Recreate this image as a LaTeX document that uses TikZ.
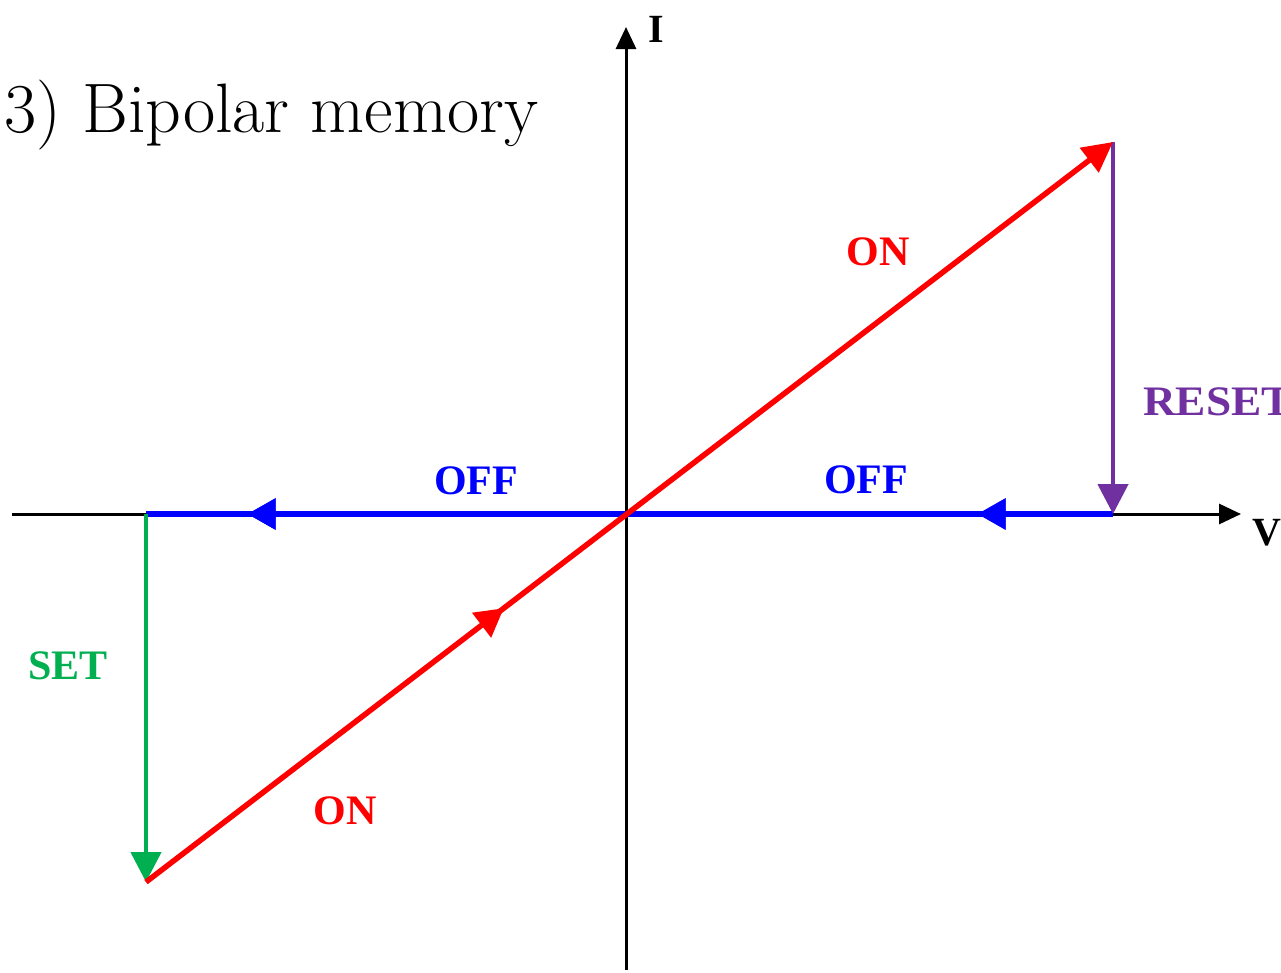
\documentclass[tikz,border=0pt]{standalone}
\usepackage{fontspec}
\newfontfamily\labfont{Liberation Serif}
\usetikzlibrary{arrows.meta,decorations.markings}
\definecolor{cred}{RGB}{255,0,0}
\definecolor{cblue}{RGB}{0,0,255}
\definecolor{cgreen}{RGB}{0,176,80}
\definecolor{cpurple}{RGB}{112,48,160}
\tikzset{
  axis/.style={line width=3pt,-{Triangle[length=22pt,width=20pt]}},
  branch/.style={line width=5.5pt},
  head/.style={-{Triangle[length=30pt,width=30pt]}},
  lab/.style={font=\labfont\bfseries\fontsize{42}{42}\selectfont,inner sep=0pt},
  midarrow/.style={postaction={decorate},decoration={markings,mark=at position #1 with {\arrow{Triangle[length=28pt,width=30pt]}}}}
}
\begin{document}
\begin{tikzpicture}[x=1pt,y=-1pt]
\useasboundingbox (0,0) rectangle (1281,972);
% key coordinates
\coordinate (O) at (626,514);
\coordinate (xl) at (12,514);
\coordinate (xr) at (1241,514);
\coordinate (yb) at (626,970);
\coordinate (yt) at (626,27);
\coordinate (TR) at (1113,142);
\coordinate (R) at (1113,514);
\coordinate (L) at (146,514);
\coordinate (BL) at (146,882);
% axes
\draw[axis] (xl) -- (xr);
\draw[axis] (yb) -- (yt);
\node[font=\labfont\bfseries\fontsize{40}{40}\selectfont,anchor=south west,inner sep=0pt] (Ilab) at (648,43) {I};
\node[font=\labfont\bfseries\fontsize{40}{40}\selectfont,anchor=south west,inner sep=0pt] (Vlab) at (1252,546) {V};
% branches
\draw[branch,cblue,midarrow=0.14,midarrow=0.895] (R) -- (L);
\draw[branch,cgreen,line width=4.5pt,head] (L) -- (BL);
\draw[branch,cpurple,line width=4.5pt,head] (TR) -- (R);
\draw[branch,cred,head,midarrow=0.37] (BL) -- (TR);
% labels
\node[lab,text=cred] (on1) at (878,252) {ON};
\node[lab,text=cred] (on2) at (345,811) {ON};
\node[lab,text=cpurple,anchor=west,xscale=1.08] (reset) at (1143,402) {RESET};
\node[lab,text=cblue] (off1) at (476,481) {OFF};
\node[lab,text=cblue] (off2) at (866,480) {OFF};
\node[lab,text=cgreen] (set) at (68,666) {SET};
% title
\node[font=\fontsize{70}{70}\selectfont,anchor=base west,inner sep=0pt] (title) at (4,132) {3) Bipolar memory};
\end{tikzpicture}
\end{document}
